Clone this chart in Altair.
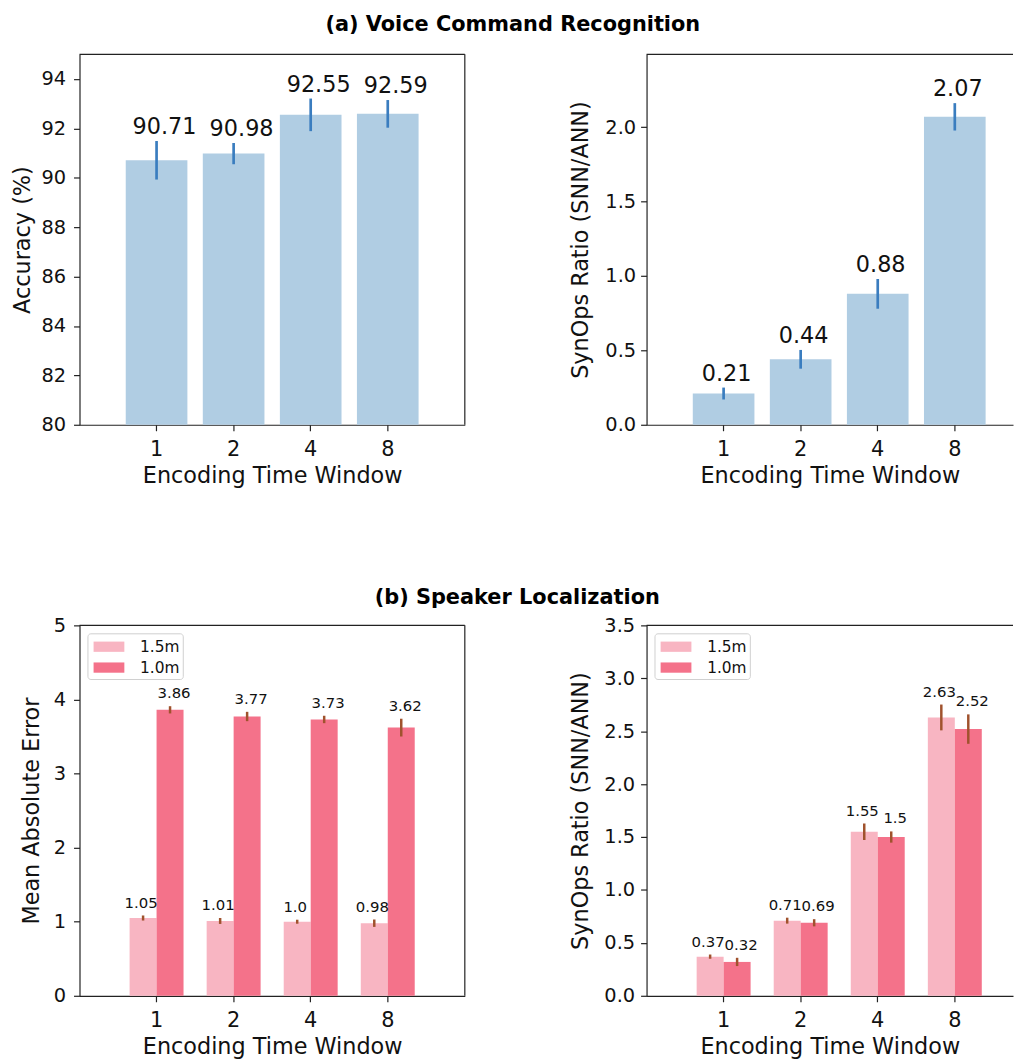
import altair as alt
import pandas as pd

# ---------------- data ----------------
windows = ["1", "2", "4", "8"]
dists = ["1.5m", "1.0m"]

acc = [90.71, 90.98, 92.55, 92.59]
acc_err = [0.78, 0.43, 0.66, 0.56]
syn_vc = [0.21, 0.44, 0.88, 2.07]
syn_vc_err = [0.04, 0.063, 0.10, 0.092]

mae_15 = [1.05, 1.01, 1.0, 0.98]
mae_15_err = [0.034, 0.04, 0.027, 0.05]
mae_10 = [3.86, 3.77, 3.73, 3.62]
mae_10_err = [0.049, 0.063, 0.05, 0.12]

syn_15 = [0.37, 0.71, 1.55, 2.63]
syn_15_err = [0.02, 0.028, 0.078, 0.122]
syn_10 = [0.32, 0.69, 1.5, 2.52]
syn_10_err = [0.039, 0.034, 0.053, 0.139]

# ---------------- style ----------------
FONT = "DejaVu Sans"
BLUE = "#b0cde3"
EBLUE = "#3a7dbf"
LPINK = "#f8b5c2"
DPINK = "#f4728a"
EBROWN = "#a0522d"
FRAME = "#222222"
FW = 1.2


def single_df(vals, errs):
    return pd.DataFrame({
        "window": windows,
        "value": vals,
        "lo": [v - e for v, e in zip(vals, errs)],
        "hi": [v + e for v, e in zip(vals, errs)],
        "label": [str(v) for v in vals],
    })


def group_df(v15, e15, v10, e10):
    rows = []
    for d, vals, errs in ((dists[0], v15, e15), (dists[1], v10, e10)):
        for w, v, e in zip(windows, vals, errs):
            rows.append({"window": w, "dist": d, "value": v, "lo": v - e,
                         "hi": v + e, "label": str(v)})
    return pd.DataFrame(rows)


def frame_rules(right_side):
    one = pd.DataFrame({"k": [0]})
    top = alt.Chart(one).mark_rule(color=FRAME, strokeWidth=FW).encode(
        x=alt.value(0), x2=alt.value("width"), y=alt.value(0))
    layers = [top]
    if right_side:
        layers.append(alt.Chart(one).mark_rule(color=FRAME, strokeWidth=FW).encode(
            x=alt.value("width"), y=alt.value(0), y2=alt.value("height")))
    return layers


def x_enc(pin, pout, align):
    return alt.X("window:N", sort=windows,
                 scale=alt.Scale(paddingInner=pin, paddingOuter=pout, align=align),
                 axis=alt.Axis(title="Encoding Time Window", labelAngle=0,
                               labelFontSize=21, labelPadding=8, titlePadding=5))


def y_axis(title, ticks, fmt, ext, tpad, lpad):
    return alt.Axis(title=title, values=ticks, format=fmt, labelFontSize=19.5,
                    minExtent=ext, maxExtent=ext, titlePadding=tpad, labelPadding=lpad)


def single_panel(df, ydom, yticks, yfmt, ytitle, width, pin, pout, align,
                 ext, tpad, lpad, dx, right_side):
    x = x_enc(pin, pout, align)
    ysc = alt.Scale(domain=ydom, nice=False, zero=False)
    base = alt.Chart(df)
    bars = base.mark_bar(color=BLUE).encode(
        x=x, y=alt.Y("value:Q", scale=ysc, axis=y_axis(ytitle, yticks, yfmt, ext, tpad, lpad)),
        y2=alt.datum(ydom[0]))
    err = base.mark_rule(color=EBLUE, strokeWidth=2.7).encode(
        x=x, y="lo:Q", y2="hi:Q")
    txt = base.mark_text(baseline="alphabetic", dy=-7, dx=dx, fontSize=22.5,
                         font=FONT, color="#111").encode(x=x, y="hi:Q", text="label:N")
    return alt.layer(bars, err, txt, *frame_rules(right_side)).properties(
        width=width, height=373)


def group_panel(df, ydom, yticks, yfmt, ytitle, width, pout, align,
                ext, tpad, lpad, right_side):
    x = x_enc(0.3, pout, align)
    xo = alt.XOffset("dist:N", sort=dists, scale=alt.Scale(paddingInner=0, paddingOuter=0))
    ysc = alt.Scale(domain=ydom, nice=False, zero=False)
    symbol = "M-1,-0.5H2V0.5H-1Z"
    base = alt.Chart(df)
    bars = base.mark_bar().encode(
        x=x, xOffset=xo,
        y=alt.Y("value:Q", scale=ysc, axis=y_axis(ytitle, yticks, yfmt, ext, tpad, lpad)),
        y2=alt.datum(ydom[0]),
        color=alt.Color("dist:N", sort=dists,
                        scale=alt.Scale(domain=dists, range=[LPINK, DPINK]),
                        legend=alt.Legend(title=None, orient="top-left", offset=8,
                                          fillColor="white", strokeColor="#d0d0d0",
                                          cornerRadius=3, padding=3, symbolOffset=3,
                                          rowPadding=2,
                                          symbolType=symbol, symbolSize=427,
                                          symbolStrokeWidth=0, symbolOpacity=1,
                                          labelFontSize=15.5, labelFont=FONT,
                                          labelColor="#111", labelOffset=26)))
    err = base.mark_rule(color=EBROWN, strokeWidth=2.5).encode(
        x=x, xOffset=xo, y="lo:Q", y2="hi:Q")
    txt_l = base.transform_filter(alt.datum.dist == dists[0]).mark_text(
        baseline="alphabetic", dy=-8, dx=-2, fontSize=15, font=FONT, color="#111").encode(
        x=x, xOffset=xo, y="hi:Q", text="label:N")
    txt_d = base.transform_filter(alt.datum.dist == dists[1]).mark_text(
        baseline="alphabetic", dy=-8, dx=4, fontSize=15, font=FONT, color="#111").encode(
        x=x, xOffset=xo, y="hi:Q", text="label:N")
    return alt.layer(bars, err, txt_l, txt_d, *frame_rules(right_side)).properties(
        width=width, height=373)


tl = single_panel(single_df(acc, acc_err), [80, 95], [80, 82, 84, 86, 88, 90, 92, 94], "d",
                  "Accuracy (%)", 388, 0.2, 0.6, 0.5, 38, 7, 8, 8, True)
tr = single_panel(single_df(syn_vc, syn_vc_err), [0, 2.49], [0, 0.5, 1.0, 1.5, 2.0], ".1f",
                  "SynOps Ratio (SNN/ANN)", 369, 0.2, 0.4776, 0.628, 46, 8, 5, 3, False)
bl = group_panel(group_df(mae_15, mae_15_err, mae_10, mae_10_err), [0, 5], [0, 1, 2, 3, 4, 5], "d",
                 "Mean Absolute Error", 388, 0.65, 0.5, 29, 7, 8, True)
br = group_panel(group_df(syn_15, syn_15_err, syn_10, syn_10_err), [0, 3.5],
                 [0, 0.5, 1.0, 1.5, 2.0, 2.5, 3.0, 3.5], ".1f",
                 "SynOps Ratio (SNN/ANN)", 369, 0.5276, 0.616, 46, 8, 6, False)

top = alt.hconcat(tl, tr, spacing=105).properties(
    title=alt.TitleParams("(a) Voice Command Recognition", fontSize=21, fontWeight="bold",
                          font=FONT, anchor="middle", offset=19, color="#000"))
bottom = alt.hconcat(bl, br, spacing=105).resolve_scale(color="independent").properties(
    title=alt.TitleParams("(b) Speaker Localization", fontSize=21, fontWeight="bold",
                          font=FONT, anchor="middle", offset=8, color="#000"))

chart = alt.vconcat(top, bottom, spacing=100).resolve_scale(color="independent").properties(
    padding={"left": 4, "top": 2, "right": 0, "bottom": 0}
).configure_view(strokeWidth=0).configure_axis(
    grid=False, domainColor=FRAME, domainWidth=FW, tickColor=FRAME, tickWidth=FW,
    tickSize=6, labelFont=FONT, titleFont=FONT, labelColor="#111", titleColor="#111",
    titleFontSize=22.5, titleFontWeight="normal"
)

chart.save("out.html", embed_options={"renderer": "svg", "actions": False})
